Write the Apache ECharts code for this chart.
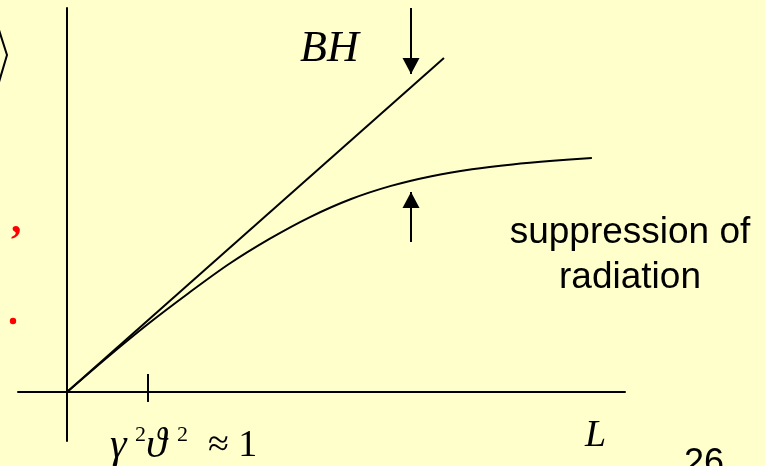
<!DOCTYPE html>
<html>
<head>
<meta charset="utf-8">
<title>Radiation intensity vs. length</title>
<script src="https://cdn.jsdelivr.net/npm/echarts@6/dist/echarts.min.js"></script>
<style>
  html, body { margin: 0; padding: 0; background: #FFFFCC; }
  #chart { width: 765px; height: 466px; }
</style>
</head>
<body>
<div id="chart"></div>
<script>
// Length axis values (units of the formation length, marker at gamma^2 theta^2 = 1)
const curveL = [0, 0.5, 1, 1.5, 2, 2.5, 3, 3.5, 4, 4.5, 5, 5.5, 6, 6.48];
// Suppressed intensity along the curve
const curveI = [0, 0.43, 0.84, 1.22, 1.58, 1.89, 2.16, 2.38, 2.545, 2.665, 2.75, 2.81, 2.855, 2.89];
// Bethe-Heitler straight line
const bhL = [0, 4.654];
const bhI = [0, 4.123];
// Marker on the length axis
const tickL = [1, 1];
const tickI = [-0.123, 0.222];
// Arrows: [L, from, tip]
const arrowDown = [4.247, 4.741, 3.926];
const arrowUp = [4.247, 1.852, 2.469];
// Texts
const bhText = 'BH';
const axisText = 'L';
const noteLines = ['suppression of', 'radiation'];
const pageNo = '26';

const pairs = (xs, ys) => xs.map((x, i) => [x, ys[i]]);

const chart = echarts.init(document.getElementById('chart'), null, { renderer: 'canvas' });

const black = '#000000';
const serif = "'Liberation Serif', 'Times New Roman', serif";
const sans = "'Liberation Sans', Arial, sans-serif";
const headLen = 16;

const option = {
  backgroundColor: '#FFFFCC',
  animation: false,
  grid: { left: 18, right: 140, top: 8, bottom: 25 },
  xAxis: {
    type: 'value',
    min: -0.605, max: 6.889,
    axisLine: { show: true, onZero: true, lineStyle: { color: black, width: 2 } },
    axisTick: { show: false }, axisLabel: { show: false }, splitLine: { show: false }
  },
  yAxis: {
    type: 'value',
    min: -0.605, max: 4.741,
    axisLine: { show: true, onZero: true, lineStyle: { color: black, width: 2 } },
    axisTick: { show: false }, axisLabel: { show: false }, splitLine: { show: false }
  },
  series: [
    {
      type: 'line', name: 'BH', data: pairs(bhL, bhI), showSymbol: false, symbol: 'none',
      lineStyle: { color: black, width: 2 }, silent: true
    },
    {
      type: 'line', name: 'suppressed', data: pairs(curveL, curveI), smooth: 0.3, symbol: 'none',
      lineStyle: { color: black, width: 2 }, silent: true
    },
    {
      type: 'line', name: 'tick', data: pairs(tickL, tickI), symbol: 'none',
      lineStyle: { color: black, width: 2 }, silent: true,
      markLine: {
        silent: true, animation: false,
        symbol: ['none', 'triangle'], symbolSize: [17, headLen],
        symbolOffset: [[0, 0], [0, headLen / 2]],
        label: { show: false },
        lineStyle: { color: black, width: 2, type: 'solid' },
        itemStyle: { color: black },
        data: [
          [{ coord: [arrowDown[0], arrowDown[1]] }, { coord: [arrowDown[0], arrowDown[2]] }],
          [{ coord: [arrowUp[0], arrowUp[1]] }, { coord: [arrowUp[0], arrowUp[2]] }]
        ]
      }
    }
  ],
  graphic: [
    { type: 'text', x: 300, y: 49, style: { text: bhText, font: 'italic 44px ' + serif, fill: black, verticalAlign: 'middle' } },
    { type: 'text', x: 585, y: 436, style: { text: axisText, font: 'italic 38px ' + serif, fill: black, verticalAlign: 'middle' } },
    { type: 'text', x: 630, y: 233, style: { text: noteLines[0], font: '37px ' + sans, fill: black, align: 'center', verticalAlign: 'middle' } },
    { type: 'text', x: 630, y: 278, style: { text: noteLines[1], font: '37px ' + sans, fill: black, align: 'center', verticalAlign: 'middle' } },
    { type: 'text', x: 684, y: 464, style: { text: pageNo, font: '36px ' + sans, fill: black, verticalAlign: 'middle' } },
    // gamma^2 theta^2 ~ 1 under the axis marker
    { type: 'text', x: 110, y: 446, style: { text: 'γ', font: 'italic 42px ' + serif, fill: black, verticalAlign: 'middle' } },
    { type: 'text', x: 135, y: 435, style: { text: '2', font: '22px ' + serif, fill: black, verticalAlign: 'middle' } },
    { type: 'text', x: 146, y: 446, style: { text: 'ϑ', font: 'italic 42px ' + serif, fill: black, verticalAlign: 'middle' } },
    { type: 'text', x: 177, y: 435, style: { text: '2', font: '22px ' + serif, fill: black, verticalAlign: 'middle' } },
    { type: 'text', x: 208, y: 446, style: { text: '≈ 1', font: '38px ' + serif, fill: black, verticalAlign: 'middle' } },
    // fragments at the left margin
    { type: 'polyline', shape: { points: [[-1, 30], [7, 55], [-1, 82]] }, style: { stroke: black, lineWidth: 2, fill: null } },
    { type: 'text', x: 11, y: 221, style: { text: ',', font: 'bold 42px ' + serif, fill: '#FF0000', verticalAlign: 'middle' } },
    { type: 'circle', shape: { cx: 13, cy: 321, r: 3.2 }, style: { fill: '#FF0000' } }
  ]
};

chart.setOption(option);
</script>
</body>
</html>
